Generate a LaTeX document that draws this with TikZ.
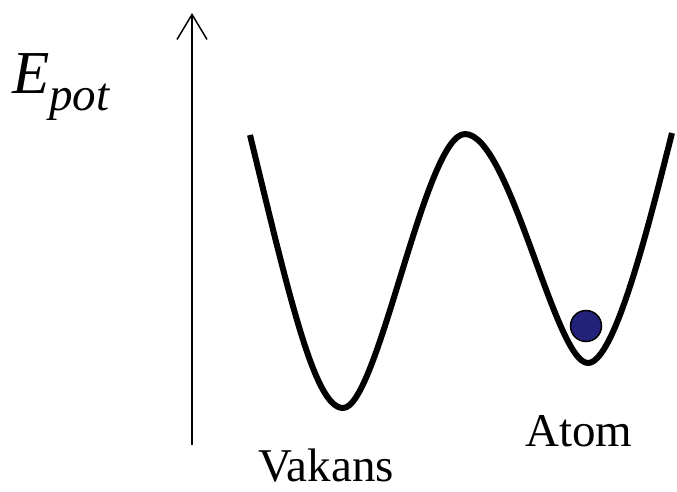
\documentclass[tikz,border=0pt]{standalone}
\usepackage{fontspec}
\setmainfont{Liberation Serif}
\usepackage{tikz}
\usetikzlibrary{arrows.meta}

\definecolor{atomblue}{RGB}{34,34,122}

\begin{document}
\begin{tikzpicture}[x=1pt, y=-1pt,
        potential/.style={line width=6pt, line join=round},
        atomball/.style={circle, draw, fill=atomblue, line width=1.5pt, minimum size=31pt, inner sep=0pt},
        label/.style={inner sep=0pt, anchor=base west, font=\fontsize{47}{50}\selectfont}]
    \useasboundingbox (0,0) rectangle (677,491);
        % energiakse
        \coordinate (ybot) at (192,445);
        \coordinate (ytop) at (192,13);
        \draw[line width=1.5pt, -{Straight Barb[length=25pt, width=30pt, line width=1.5pt]}] (ybot) -- (ytop);
        \node[inner sep=0pt, anchor=base west] (epot) at (12,93)
            {\fontsize{61}{61}\selectfont\itshape E\raisebox{-17pt}{\fontsize{47}{47}\selectfont pot}};
        % potentialkurve
        \draw[potential] (250,135) .. controls (290,300) and (315,408) .. (343,408)
            .. controls (378,408) and (425,134) .. (465,134)
            .. controls (510,134) and (555,363) .. (588,363)
            .. controls (615,363) and (650,220) .. (672,133);
        \node[atomball] (atom) at (586,326) {};
        \node[label] (atomlabel) at (525,446) {Atom};
        \node[label] (vakans) at (258,481) {Vakans};
\end{tikzpicture}
\end{document}
